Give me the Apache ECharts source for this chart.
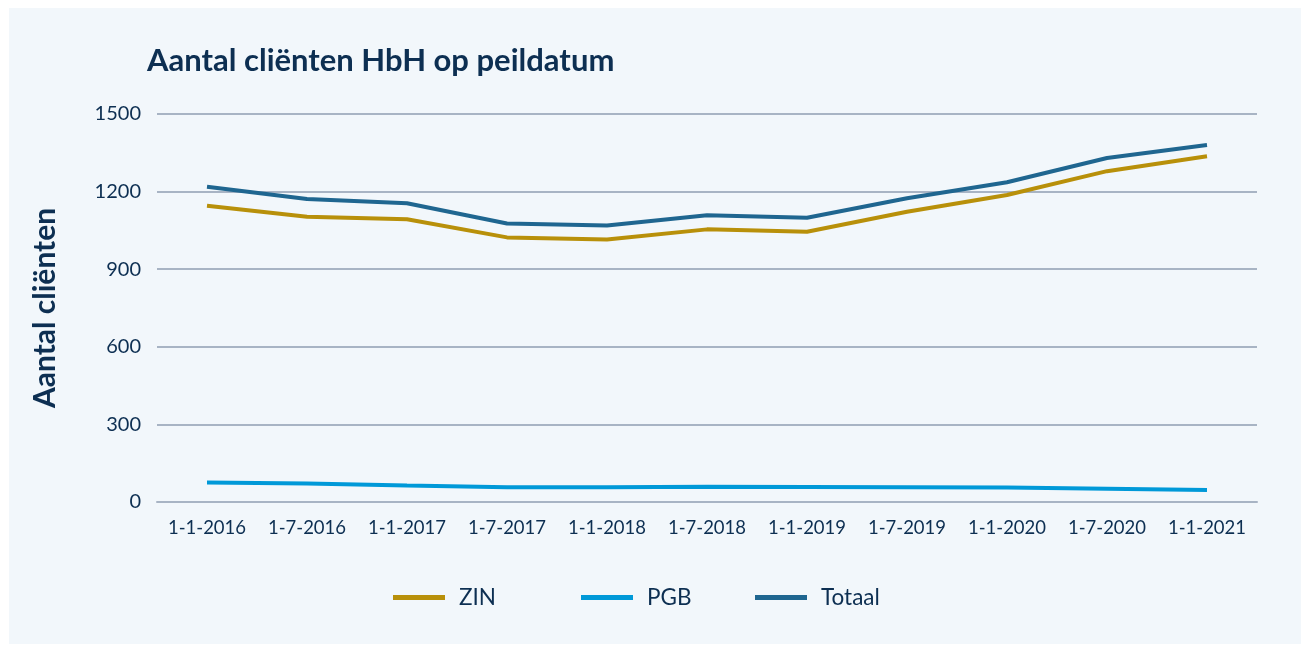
<!DOCTYPE html>
<html>
<head>
<meta charset="UTF-8">
<title>Aantal cliënten HbH op peildatum</title>
<style>
  html, body { margin: 0; padding: 0; background: #ffffff; }
  #chart { width: 1301px; height: 645px; }
</style>
</head>
<body>
<div id="chart"></div>
<script src="https://cdn.jsdelivr.net/npm/echarts@6/dist/echarts.min.js"></script>
<script>
// peildata
var dates = ['1-1-2016', '1-7-2016', '1-1-2017', '1-7-2017', '1-1-2018', '1-7-2018',
             '1-1-2019', '1-7-2019', '1-1-2020', '1-7-2020', '1-1-2021'];
var zin    = [1145, 1103, 1093, 1023, 1015, 1054, 1045, 1122, 1187, 1279, 1337];
var pgb    = [75, 72, 64, 57, 57, 59, 58, 57, 56, 51, 46];
var totaal = [1219, 1171, 1155, 1077, 1069, 1109, 1099, 1174, 1236, 1330, 1380];
var yTicks = [0, 300, 600, 900, 1200, 1500];

var navy = '#0d2f52';
var font = 'Lato';

var chart = echarts.init(document.getElementById('chart'));

function lineSeries(name, data, color) {
  return {
    name: name,
    type: 'line',
    data: data,
    symbol: 'none',
    lineStyle: { color: color, width: 4 },
    itemStyle: { color: color }
  };
}

// één legenda per reeks, zodat de posities vrij te kiezen zijn
function legendItem(name, left) {
  return {
    data: [name],
    left: left,
    bottom: 36,
    itemWidth: 52,
    itemHeight: 5,
    icon: 'rect',
    padding: 0,
    textStyle: { fontFamily: font, fontSize: 22.5, color: navy, padding: [0, 0, 0, 9] }
  };
}

var option = {
  backgroundColor: '#ffffff',
  textStyle: { fontFamily: font, color: navy },
  graphic: [{
    type: 'rect',
    z: -10,
    shape: { x: 9, y: 8, width: 1292, height: 636 },
    style: { fill: '#f2f7fb' }
  }],
  title: {
    text: 'Aantal cliënten HbH op peildatum',
    left: 142,
    top: 40,
    textStyle: { fontFamily: font, fontSize: 31, fontWeight: 'bold', color: navy }
  },
  legend: [
    legendItem('ZIN', 393),
    legendItem('PGB', 581),
    legendItem('Totaal', 755)
  ],
  grid: {
    left: 157,
    right: 44,
    top: 114,
    bottom: 143,
    containLabel: false
  },
  xAxis: {
    type: 'category',
    data: dates,
    boundaryGap: true,
    axisLine: { lineStyle: { color: '#a8b4c4', width: 2 } },
    axisTick: { show: false },
    axisLabel: { fontFamily: font, fontSize: 18.5, color: navy, margin: 17, interval: 0 }
  },
  yAxis: {
    type: 'value',
    min: yTicks[0],
    max: yTicks[yTicks.length - 1],
    interval: 300,
    name: 'Aantal cliënten',
    nameLocation: 'middle',
    nameGap: 97,
    nameRotate: 90,
    nameTextStyle: { fontFamily: font, fontSize: 30, fontWeight: 'bold', color: navy },
    axisLine: { show: false },
    axisTick: { show: false },
    axisLabel: {
      fontFamily: font, fontSize: 20, color: navy, margin: 16,
      formatter: function (v) { return String(v); }
    },
    splitLine: { lineStyle: { color: '#a8b4c4', width: 2 } }
  },
  series: [
    lineSeries('ZIN', zin, '#b8900a'),
    lineSeries('PGB', pgb, '#0099d8'),
    lineSeries('Totaal', totaal, '#1f6690')
  ]
};

chart.setOption(option);
</script>
</body>
</html>
